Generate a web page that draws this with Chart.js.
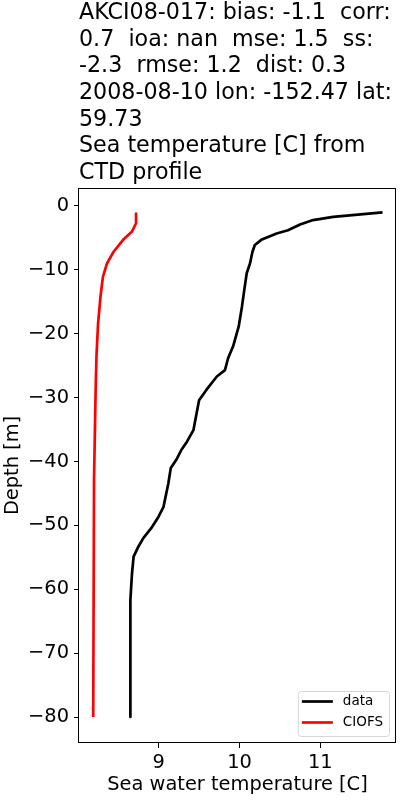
<!DOCTYPE html>
<html>
<head>
<meta charset="utf-8">
<script src="https://cdn.jsdelivr.net/npm/chart.js@4"></script>
<style>
  body { margin: 0; background: #fff; }
  #wrap { width: 400px; height: 800px; }
</style>
</head>
<body>
<div id="wrap"><canvas id="profile"></canvas></div>
<script>
// title lines, as wrapped in the original figure
const titleLines = [
    'AKCI08-017: bias: -1.1  corr:',
    '0.7  ioa: nan  mse: 1.5  ss:',
    '-2.3  rmse: 1.2  dist: 0.3',
    '2008-08-10 lon: -152.47 lat:',
    '59.73',
    'Sea temperature [C] from',
    'CTD profile'
];

// CTD cast (data)
const obsTemp = [11.77, 11.16, 10.91, 10.75, 10.60, 10.46, 10.27, 10.19, 10.16, 10.13, 10.09, 10.06, 10.03, 9.99, 9.92, 9.86, 9.82, 9.72, 9.59, 9.50, 9.47, 9.43, 9.35, 9.28, 9.22, 9.15, 9.12, 9.06, 9.00, 8.91, 8.81, 8.75, 8.69, 8.67, 8.65, 8.65];
const obsDepth = [-1.0, -1.7, -2.2, -2.9, -3.8, -4.3, -5.3, -6.1, -7.2, -9.0, -10.5, -13.1, -15.8, -18.9, -22.0, -23.8, -25.7, -26.7, -28.8, -30.4, -32.4, -35.1, -36.9, -38.2, -39.7, -41.0, -43.4, -47.1, -48.6, -50.4, -52.0, -53.3, -54.9, -57.5, -61.7, -80.0];

// CIOFS model
const modelTemp = [8.72, 8.72, 8.67, 8.56, 8.44, 8.36, 8.31, 8.28, 8.25, 8.23, 8.22, 8.20, 8.19];
const modelDepth = [-1.2, -2.7, -4.0, -5.3, -7.2, -9.0, -11.1, -14.2, -18.4, -23.6, -28.8, -42.9, -80.0];

const xTicks = [9, 10, 11];
const yTicks = [0, -10, -20, -30, -40, -50, -60, -70, -80];

const toPoints = (xs, ys) => xs.map((x, i) => ({ x: x, y: ys[i] }));
const minusSign = v => String(v).replace('-', '\u2212');

Chart.defaults.font.family = 'DejaVu Sans';
Chart.defaults.color = '#000';

// full box around the axes, like matplotlib spines
const framePlugin = {
    id: 'frame',
    afterDatasetsDraw(chart) {
        const a = chart.chartArea;
        const ctx = chart.ctx;
        ctx.save();
        ctx.strokeStyle = '#000';
        ctx.lineWidth = 1;
        ctx.strokeRect(Math.round(a.left) - 0.5, Math.round(a.top) + 0.5, Math.round(a.right - a.left), Math.round(a.bottom - a.top) - 1);
        ctx.restore();
    }
};

// legend box in the lower right corner of the axes
const cornerLegend = {
    id: 'cornerLegend',
    afterDraw(chart) {
        const a = chart.chartArea;
        const ctx = chart.ctx;
        const sets = chart.data.datasets;
        ctx.save();
        ctx.font = '13.5px "DejaVu Sans"';
        let textW = 0;
        sets.forEach(ds => { textW = Math.max(textW, ctx.measureText(ds.label).width); });
        const w = 4 + 31 + 10 + textW + 6;
        const h = 45;
        const x0 = a.right - 7 - w;
        const y0 = a.bottom - 7 - h;
        ctx.beginPath();
        ctx.roundRect(x0 + 0.5, y0 + 0.5, w, h, 3);
        ctx.fillStyle = 'rgba(255,255,255,0.8)';
        ctx.fill();
        ctx.strokeStyle = '#d6d6d6';
        ctx.lineWidth = 1;
        ctx.stroke();
        sets.forEach((ds, i) => {
            const cy = y0 + 10.5 + i * 21;
            ctx.beginPath();
            ctx.moveTo(x0 + 4, cy);
            ctx.lineTo(x0 + 35, cy);
            ctx.strokeStyle = ds.borderColor;
            ctx.lineWidth = 2.7;
            ctx.stroke();
            ctx.fillStyle = '#000';
            ctx.textBaseline = 'middle';
            ctx.fillText(ds.label, x0 + 45, cy);
        });
        ctx.restore();
    }
};

new Chart(document.getElementById('profile'), {
    type: 'scatter',
    data: {
        datasets: [
            {
                label: 'data',
                data: toPoints(obsTemp, obsDepth),
                showLine: true,
                borderColor: '#000000',
                borderWidth: 2.7,
                pointRadius: 0,
                borderJoinStyle: 'round',
                borderCapStyle: 'butt'
            },
            {
                label: 'CIOFS',
                data: toPoints(modelTemp, modelDepth),
                showLine: true,
                borderColor: '#ff0000',
                borderWidth: 2.7,
                pointRadius: 0,
                borderJoinStyle: 'round',
                borderCapStyle: 'butt'
            }
        ]
    },
    options: {
        responsive: true,
        maintainAspectRatio: false,
        animation: false,
        layout: { padding: { right: 4 } },
        plugins: {
            legend: { display: false },
            tooltip: { enabled: false },
            title: {
                display: true,
                text: titleLines,
                align: 'start',
                fullSize: false,
                font: { size: 22.2, weight: 'normal', lineHeight: 1.2 },
                padding: { top: 0, bottom: 1.5 }
            }
        },
        scales: {
            x: {
                type: 'linear',
                min: 8.014,
                max: 11.937,
                afterBuildTicks: s => { s.ticks = xTicks.map(v => ({ value: v })); },
                afterFit: s => { s.height = 57; },
                border: { display: false },
                grid: { drawOnChartArea: false, tickLength: 5, color: '#000' },
                ticks: { font: { size: 19.4 }, padding: 3, maxRotation: 0, callback: minusSign },
                title: { display: true, text: 'Sea water temperature [C]', font: { size: 19.4 }, padding: { top: 0, bottom: 3 } }
            },
            y: {
                type: 'linear',
                min: -84.07,
                max: 2.82,
                afterBuildTicks: s => { s.ticks = yTicks.map(v => ({ value: v })); },
                afterFit: s => { s.width = 79; },
                border: { display: false },
                grid: { drawOnChartArea: false, tickLength: 5, color: '#000' },
                ticks: { font: { size: 19.4 }, padding: 5, callback: minusSign },
                title: { display: true, text: 'Depth [m]', font: { size: 19.4 }, padding: { top: 1, bottom: 0 } }
            }
        }
    },
    plugins: [framePlugin, cornerLegend]
});
</script>
</body>
</html>
